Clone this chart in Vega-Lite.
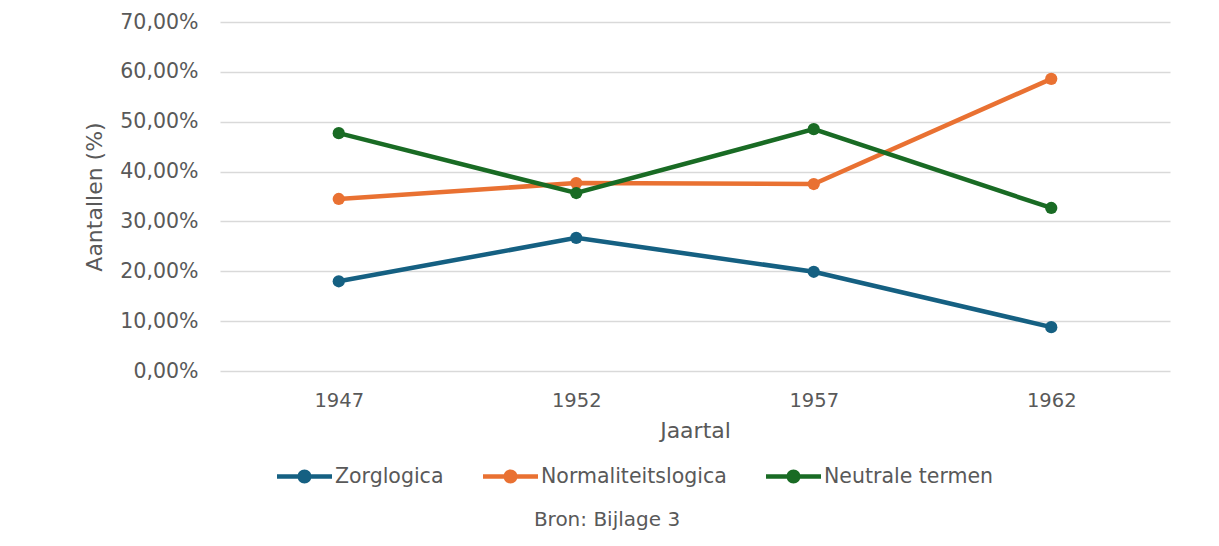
{
  "$schema": "https://vega.github.io/schema/vega-lite/v6.json",
  "autosize": "none",
  "width": 950,
  "height": 349,
  "padding": {"left": 220, "top": 22, "right": 49, "bottom": 175},
  "background": "white",
  "config": {
    "view": {"stroke": null},
    "font": "DejaVu Sans",
    "axis": {"labelColor": "#595959", "titleColor": "#595959", "labelFontSize": 19.5, "titleFontSize": 22, "titleFontWeight": "normal", "labelFont": "DejaVu Sans", "titleFont": "DejaVu Sans", "gridColor": "#d9d9d9", "gridWidth": 1.5, "domain": false, "ticks": false}
  },
  "title": {"text": "Bron: Bijlage 3", "orient": "bottom", "anchor": "middle", "dx": -88, "offset": 23, "fontSize": 20, "fontWeight": "normal", "color": "#595959", "font": "DejaVu Sans"},
  "data": {"values": [
    {"Jaartal": "1947", "Reeks": "Zorglogica", "Waarde": 0.180},
    {"Jaartal": "1952", "Reeks": "Zorglogica", "Waarde": 0.267},
    {"Jaartal": "1957", "Reeks": "Zorglogica", "Waarde": 0.199},
    {"Jaartal": "1962", "Reeks": "Zorglogica", "Waarde": 0.088},
    {"Jaartal": "1947", "Reeks": "Normaliteitslogica", "Waarde": 0.345},
    {"Jaartal": "1952", "Reeks": "Normaliteitslogica", "Waarde": 0.377},
    {"Jaartal": "1957", "Reeks": "Normaliteitslogica", "Waarde": 0.375},
    {"Jaartal": "1962", "Reeks": "Normaliteitslogica", "Waarde": 0.586},
    {"Jaartal": "1947", "Reeks": "Neutrale termen", "Waarde": 0.477},
    {"Jaartal": "1952", "Reeks": "Neutrale termen", "Waarde": 0.357},
    {"Jaartal": "1957", "Reeks": "Neutrale termen", "Waarde": 0.485},
    {"Jaartal": "1962", "Reeks": "Neutrale termen", "Waarde": 0.327}
  ]},
  "encoding": {
    "x": {"field": "Jaartal", "type": "ordinal", "scale": {"type": "point", "padding": 0.5}, "axis": {"labelAngle": 0, "labelPadding": 20, "grid": false, "title": "Jaartal", "titlePadding": 11}},
    "y": {"field": "Waarde", "type": "quantitative", "scale": {"domain": [0, 0.7], "nice": false}, "axis": {"values": [0, 0.1, 0.2, 0.3, 0.4, 0.5, 0.6, 0.7], "labelExpr": "replace(format(datum.value, '.2%'), '.', ',')", "labelFontSize": 20.5, "labelPadding": 22, "title": "Aantallen  (%)", "titlePadding": 13}},
    "color": {"field": "Reeks", "type": "nominal", "sort": ["Zorglogica", "Normaliteitslogica", "Neutrale termen"], "scale": {"domain": ["Zorglogica", "Normaliteitslogica", "Neutrale termen"], "range": ["#156082", "#E97132", "#196B24"]},
      "legend": {"title": null, "orient": "none", "legendX": 57, "legendY": 427, "direction": "horizontal", "labelFontSize": 20.5, "labelColor": "#595959", "labelFont": "DejaVu Sans", "labelLimit": 400, "symbolType": "M-1,-0.082 L1,-0.082 L1,0.082 L-1,0.082 Z M0.255,0 A0.255,0.255 0 1,1 -0.255,0 A0.255,0.255 0 1,1 0.255,0 Z", "symbolSize": 3025, "symbolStrokeWidth": 0, "symbolOpacity": 1, "labelOffset": 3, "columnPadding": 39}}
  },
  "layer": [
    {"mark": {"type": "line", "strokeWidth": 4.5}},
    {"mark": {"type": "circle", "size": 150, "opacity": 1}}
  ]
}
